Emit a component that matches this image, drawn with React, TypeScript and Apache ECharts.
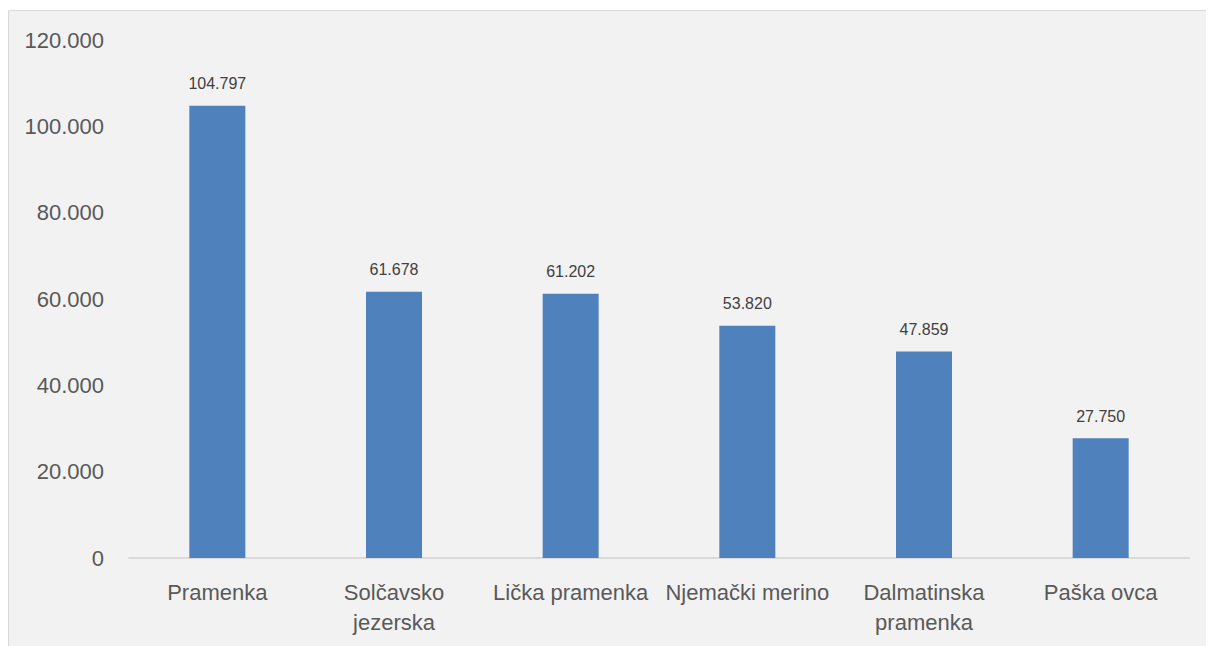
import React, { useEffect, useRef } from "react";
import * as echarts from "echarts";

const categories = ["Pramenka", "Solčavsko\njezerska", "Lička pramenka", "Njemački merino", "Dalmatinska\npramenka", "Paška ovca"];
const values = [104797, 61678, 61202, 53820, 47859, 27750];
const yTicks = { min: 0, max: 120000, interval: 20000 };

const fmt = (v: number) => (v === 0 ? "0" : Math.round(v).toString().replace(/\B(?=(\d{3})+(?!\d))/g, "."));

const FONT = "'Liberation Sans', Arial, sans-serif";

export default function App() {
  const ref = useRef<HTMLDivElement>(null);
  useEffect(() => {
    if (!ref.current) return;
    const chart = echarts.init(ref.current, undefined, { renderer: "svg" });
    chart.setOption({
      animation: false,
      backgroundColor: "#ffffff",
      graphic: [
        {
          type: "rect",
          z: -10,
          silent: true,
          shape: { x: 0.5, y: 2.5, width: 1220, height: 650 },
          style: { fill: "#f2f2f2", stroke: "#d9d9d9", lineWidth: 1 },
        },
      ],
      grid: { left: 121, right: 25, top: 32, bottom: 88, containLabel: false },
      xAxis: {
        type: "category",
        data: categories,
        axisLine: { lineStyle: { color: "#d9d9d9", width: 2 } },
        axisTick: { show: false },
        axisLabel: {
          interval: 0,
          color: "#595959",
          fontFamily: FONT,
          fontSize: 22,
          lineHeight: 30,
          margin: 19,
        },
      },
      yAxis: {
        type: "value",
        min: yTicks.min,
        max: yTicks.max,
        interval: yTicks.interval,
        splitLine: { show: false },
        axisLine: { show: false },
        axisTick: { show: false },
        axisLabel: {
          color: "#595959",
          fontFamily: FONT,
          fontSize: 22,
          margin: 25,
          formatter: (v: number) => fmt(v),
        },
      },
      series: [
        {
          type: "bar",
          data: values,
          barWidth: 56,
          itemStyle: { color: "#4f81bd" },
          label: {
            show: true,
            position: "top",
            distance: 14,
            color: "#404040",
            fontFamily: FONT,
            fontSize: 16,
            formatter: (p: any) => fmt(p.value),
          },
        },
      ],
    });
    return () => chart.dispose();
  }, []);
  return <div ref={ref} style={{ width: 1206, height: 638 }} />;
}
